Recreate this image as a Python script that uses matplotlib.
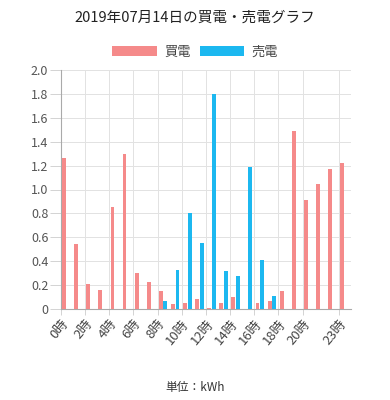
import numpy as np
import matplotlib.pyplot as plt

plt.rcParams['font.family'] = ['Noto Sans CJK JP', 'DejaVu Sans']

# 時刻 (0-23時)
hours = list(range(24))
# 買電 kWh
buy = [1.26, 0.54, 0.21, 0.16, 0.85, 1.30, 0.30, 0.23, 0.15, 0.04, 0.05, 0.08,
       0.01, 0.05, 0.10, 0.00, 0.05, 0.07, 0.15, 1.49, 0.91, 1.05, 1.17, 1.22]
# 売電 kWh
sell = [0, 0, 0, 0, 0, 0, 0, 0, 0.07, 0.33, 0.80, 0.55,
        1.80, 0.32, 0.28, 1.19, 0.41, 0.11, 0, 0, 0, 0, 0, 0]
tick_hours = [0, 2, 4, 6, 8, 10, 12, 14, 16, 18, 20, 23]
tick_labels = [f'{h}時' for h in tick_hours]
y_ticks = [0, 0.2, 0.4, 0.6, 0.8, 1.0, 1.2, 1.4, 1.6, 1.8, 2.0]
y_labels = ['0'] + [f'{v:.1f}' for v in y_ticks[1:]]

buy_color = '#f58a8a'
sell_color = '#1cb8f0'

fig = plt.figure(figsize=(3.9, 4.0), dpi=100)
ax = fig.add_axes([0.156, 0.2275, 0.744, 0.5975])

x = np.array(hours)
ax.bar(x + 0.27, buy, width=0.32, color=buy_color, label='買電', zorder=3)
ax.bar(x + 0.65, sell, width=0.32, color=sell_color, label='売電', zorder=3)

ax.set_xlim(0, 24)
ax.set_ylim(0, 2.0)
ax.set_xticks(tick_hours)
ax.set_xticklabels(tick_labels, rotation=50, ha='right', va='top',
                   rotation_mode='anchor', fontsize=9.5, color='#444444')
ax.set_yticks(y_ticks)
ax.set_yticklabels(y_labels, fontsize=9, color='#555555')
ax.tick_params(axis='y', length=8, width=0.6, color='#cccccc', pad=1)
ax.tick_params(axis='x', length=4, width=0.6, color='#cccccc', pad=2)

ax.grid(True, color='#e2e2e2', linewidth=0.7, zorder=0)
for side in ['top', 'right']:
    ax.spines[side].set_visible(False)
ax.spines['left'].set_color('#aaaaaa')
ax.spines['bottom'].set_color('#aaaaaa')

fig.text(0.5, 0.955, '2019年07月14日の買電・売電グラフ', ha='center', va='center',
         fontsize=10.5, color='#222222')
fig.legend(loc='center', bbox_to_anchor=(0.5, 0.87), ncol=2, frameon=False,
           fontsize=9.5, handlelength=3.4, handleheight=0.85, handletextpad=0.5,
           columnspacing=0.7, labelcolor='#444444')
fig.text(0.5, 0.032, '単位：kWh', ha='center', va='center', fontsize=8.5, color='#333333')

fig.savefig('out.png', dpi=100)
